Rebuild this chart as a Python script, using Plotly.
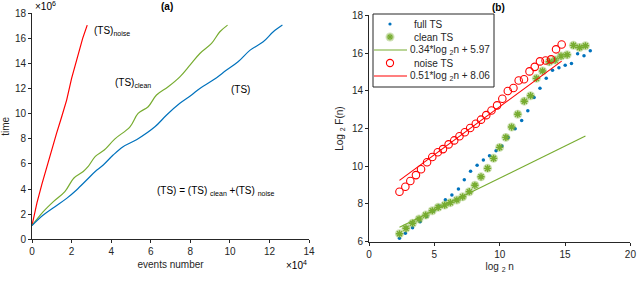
import plotly.graph_objects as go

# ---------- panel (a) data (x in units of 1e4 events, y in units of 1e6) ----------
noise_x = [0, 0.25, 0.5, 0.75, 0.99, 1.24, 1.5, 1.75, 2.0, 2.29, 2.56, 2.79]
noise_y = [1.1, 2.9, 4.4, 5.8, 7.11, 8.44, 9.76, 11.09, 12.82, 14.54, 16.0, 17.06]

clean_x = [0, 0.57, 1.08, 1.66, 2.12, 2.59, 2.84, 3.2, 3.65, 4.19, 4.95, 5.36, 5.87,
           6.29, 6.88, 7.47, 7.98, 8.48, 9.07, 9.49, 9.88]
clean_y = [1.1, 2.2, 3.0, 3.8, 4.88, 5.4, 5.8, 6.6, 7.11, 8.0, 8.96, 10.03, 10.56,
           11.49, 12.15, 12.94, 13.87, 14.8, 15.6, 16.53, 17.06]

ts_x = [0, 0.57, 1.16, 1.75, 2.25, 2.76, 3.18, 3.6, 4.1, 4.6, 5.3, 6.21, 6.8, 7.47,
        8.06, 8.48, 9.15, 9.83, 10.41, 11.02, 11.68, 12.19, 12.65]
ts_y = [1.1, 1.93, 2.6, 3.26, 3.93, 4.72, 5.38, 5.92, 6.71, 7.37, 7.95, 8.96, 9.9,
        10.83, 11.49, 12.02, 12.68, 13.48, 14.14, 15.07, 15.73, 16.53, 17.06]

# ---------- panel (b) data ----------
full_lx = [2.33, 2.78, 3.33, 3.91, 4.41, 4.91, 5.34, 5.84, 6.34, 6.84, 7.29, 7.77, 8.27,
           8.75, 9.22, 9.72, 10.17, 10.65, 11.18, 11.68, 12.15, 12.63, 13.08, 13.56,
           14.04, 14.53, 15.01, 15.49, 15.96, 16.45, 16.93]
full_ly = [6.18, 6.45, 6.74, 7.06, 7.33, 7.63, 7.89, 8.23, 8.48, 8.79, 9.28, 9.74, 10.05,
           10.33, 10.56, 10.82, 11.08, 11.53, 11.99, 12.43, 12.94, 13.64, 14.13, 14.66,
           15.09, 15.22, 15.35, 15.45, 15.97, 15.86, 16.12]

clean_lx = [2.33, 2.83, 3.33, 3.83, 4.34, 4.84, 5.29, 5.79, 6.22, 6.72, 7.17, 7.67, 8.1,
            8.57, 9.07, 9.53, 9.99, 10.47, 10.91, 11.38, 11.88, 12.36, 12.81, 13.28,
            13.79, 14.24, 14.69, 15.16, 15.64, 16.11, 16.56]
clean_ly = [6.42, 6.71, 6.98, 7.2, 7.41, 7.64, 7.82, 7.94, 8.07, 8.21, 8.38, 8.65, 8.99,
            9.44, 9.89, 10.42, 11.0, 11.53, 12.08, 12.76, 13.45, 13.74, 14.66, 15.05,
            15.54, 15.63, 15.84, 15.91, 16.41, 16.3, 16.39]

noise_lx = [2.33, 2.78, 3.16, 3.59, 3.98, 4.44, 4.84, 5.26, 5.66, 6.09, 6.52, 6.92, 7.33,
            7.74, 8.17, 8.57, 8.97, 9.37, 9.8, 10.2, 10.62, 11.05, 11.45, 11.86, 12.28,
            12.68, 13.08, 13.51, 13.93, 14.31, 14.74]
noise_ly = [8.65, 8.91, 9.22, 9.53, 9.84, 10.21, 10.49, 10.74, 10.91, 11.16, 11.37, 11.59,
            11.8, 12.03, 12.25, 12.47, 12.71, 12.96, 13.23, 13.58, 13.99, 14.15, 14.55,
            14.61, 15.03, 15.27, 15.56, 15.61, 15.67, 16.2, 16.46]

clean_fit = (0.34, 5.97)
noise_fit = (0.51, 8.06)

legend_labels = ["full TS", "clean TS", "0.34*log <sub>2</sub>n + 5.97",
                 "noise TS", "0.51*log <sub>2</sub>n + 8.06"]

BLUE = "#0072BD"
GREEN = "#77AC30"
RED = "#FF0000"
AX = "#262626"
FONT = "Liberation Sans, Arial, sans-serif"
W, H = 640, 296


def px(x):
    return x / W


def py(y):
    return 1 - y / H


fig = go.Figure()

# panel (a)
fig.add_trace(go.Scatter(x=noise_x, y=noise_y, mode="lines", line=dict(color=RED, width=1.2),
                         xaxis="x", yaxis="y"))
fig.add_trace(go.Scatter(x=clean_x, y=clean_y, mode="lines", line=dict(color=GREEN, width=1.2, shape="spline"),
                         xaxis="x", yaxis="y"))
fig.add_trace(go.Scatter(x=ts_x, y=ts_y, mode="lines", line=dict(color=BLUE, width=1.2, shape="spline"),
                         xaxis="x", yaxis="y"))

# panel (b)
fig.add_trace(go.Scatter(x=full_lx, y=full_ly, mode="markers",
                         marker=dict(color=BLUE, size=3.5, symbol="circle"),
                         xaxis="x2", yaxis="y2"))
fig.add_trace(go.Scatter(x=clean_lx, y=clean_ly, mode="markers",
                         marker=dict(color="rgba(119,172,48,0.35)", size=9, symbol="circle"),
                         xaxis="x2", yaxis="y2"))
fig.add_trace(go.Scatter(x=clean_lx, y=clean_ly, mode="markers",
                         marker=dict(symbol="asterisk-open", size=6, color=GREEN,
                                     line=dict(color=GREEN, width=1.4)),
                         xaxis="x2", yaxis="y2"))
cfx = [clean_lx[0], clean_lx[-1]]
fig.add_trace(go.Scatter(x=cfx, y=[clean_fit[0] * v + clean_fit[1] for v in cfx], mode="lines",
                         line=dict(color=GREEN, width=1.1), xaxis="x2", yaxis="y2"))
fig.add_trace(go.Scatter(x=noise_lx, y=noise_ly, mode="markers",
                         marker=dict(symbol="circle-open", size=7.5, line=dict(color=RED, width=1.1), color=RED),
                         xaxis="x2", yaxis="y2"))
nfx = [noise_lx[0], noise_lx[-1]]
fig.add_trace(go.Scatter(x=nfx, y=[noise_fit[0] * v + noise_fit[1] for v in nfx], mode="lines",
                         line=dict(color=RED, width=1.1), xaxis="x2", yaxis="y2"))

axis_common = dict(showgrid=False, zeroline=False, showline=True, linecolor=AX, linewidth=1,
                   ticks="outside", ticklen=3, tickcolor=AX, tickwidth=1, automargin=False,
                   tickfont=dict(family=FONT, size=10, color=AX), mirror=False)

fig.update_layout(
    width=W, height=H,
    margin=dict(l=0, r=0, t=0, b=0),
    paper_bgcolor="white", plot_bgcolor="white",
    font=dict(family=FONT, size=10, color=AX),
    showlegend=False, hovermode=False,
    xaxis=dict(domain=[0.05, 0.483], range=[0, 14], tickvals=list(range(0, 15, 2)), anchor="y",
               title=dict(text="events number", font=dict(size=10), standoff=4), **axis_common),
    yaxis=dict(domain=[0.1916, 0.955], range=[0, 18], tickvals=list(range(0, 19, 2)), anchor="x",
               title=dict(text="time", font=dict(size=10), standoff=6), **axis_common),
    xaxis2=dict(domain=[0.5766, 0.985], range=[0, 20], tickvals=[0, 5, 10, 15, 20], anchor="y2",
                title=dict(text="log <sub>2</sub> n", font=dict(size=10), standoff=4), **axis_common),
    yaxis2=dict(domain=[0.1835, 0.948], range=[6, 18], tickvals=list(range(6, 19, 2)), anchor="x2",
                title=dict(text="Log <sub>2</sub> F(n)", font=dict(size=10), standoff=6), **axis_common),
)

# ---------- compact legend box (panel b) ----------
box = (373, 14, 494, 87)
fig.add_shape(type="rect", xref="paper", yref="paper", x0=px(box[0]), x1=px(box[2]),
              y0=py(box[3]), y1=py(box[1]), line=dict(color=AX, width=1), fillcolor="white", layer="above")
rows = [24, 37, 50, 63, 76]
sym_x = 390
# full TS: small blue dot
fig.add_shape(type="circle", xref="paper", yref="paper", x0=px(sym_x - 1.6), x1=px(sym_x + 1.6),
              y0=py(rows[0] + 1.6), y1=py(rows[0] - 1.6), line=dict(width=0), fillcolor=BLUE, layer="above")
# clean TS: halo + asterisk strokes
fig.add_shape(type="circle", xref="paper", yref="paper", x0=px(sym_x - 4.5), x1=px(sym_x + 4.5),
              y0=py(rows[1] + 4.5), y1=py(rows[1] - 4.5), line=dict(width=0),
              fillcolor="rgba(119,172,48,0.35)", layer="above")
for dx, dy in [(0, 3.2), (3.2, 0), (2.3, 2.3), (2.3, -2.3)]:
    fig.add_shape(type="line", xref="paper", yref="paper", x0=px(sym_x - dx), x1=px(sym_x + dx),
                  y0=py(rows[1] - dy), y1=py(rows[1] + dy), line=dict(color=GREEN, width=1.3), layer="above")
# clean fit line
fig.add_shape(type="line", xref="paper", yref="paper", x0=px(374), x1=px(407),
              y0=py(rows[2]), y1=py(rows[2]), line=dict(color=GREEN, width=1.1), layer="above")
# noise TS: open red circle
fig.add_shape(type="circle", xref="paper", yref="paper", x0=px(sym_x - 3.6), x1=px(sym_x + 3.6),
              y0=py(rows[3] + 3.6), y1=py(rows[3] - 3.6), line=dict(color=RED, width=1.1), layer="above")
# noise fit line
fig.add_shape(type="line", xref="paper", yref="paper", x0=px(374), x1=px(407),
              y0=py(rows[4]), y1=py(rows[4]), line=dict(color=RED, width=1.1), layer="above")
for lab, ry in zip(legend_labels, rows):
    tx = 410 if "log" not in lab else 408
    if "log" not in lab:
        tx = 412
    fig.add_annotation(text=lab, x=px(tx), y=py(ry), xref="paper", yref="paper", showarrow=False,
                       xanchor="left", yanchor="middle", font=dict(family=FONT, size=10, color=AX))

ann = [
    dict(text="<b>(a)</b>", x=167, y=6),
    dict(text="<b>(b)</b>", x=498, y=7),
    dict(text="×10<sup>6</sup>", x=45, y=6),
    dict(text="×10<sup>4</sup>", x=296, y=265),
    dict(text="(TS)<sub>noise</sub>", x=112, y=31),
    dict(text="(TS)<sub>clean</sub>", x=133, y=83),
    dict(text="(TS)", x=240, y=89),
    dict(text="(TS) = (TS) <sub>clean</sub> +(TS) <sub>noise</sub>", x=215, y=191),
]
for a in ann:
    fig.add_annotation(text=a["text"], x=px(a["x"]), y=py(a["y"]), xref="paper", yref="paper",
                       showarrow=False, xanchor="center", yanchor="middle",
                       font=dict(family=FONT, size=10, color="black"))

fig.write_html("out.html", config={"displayModeBar": False, "staticPlot": True},
               post_script="document.body.style.margin='0px';")
